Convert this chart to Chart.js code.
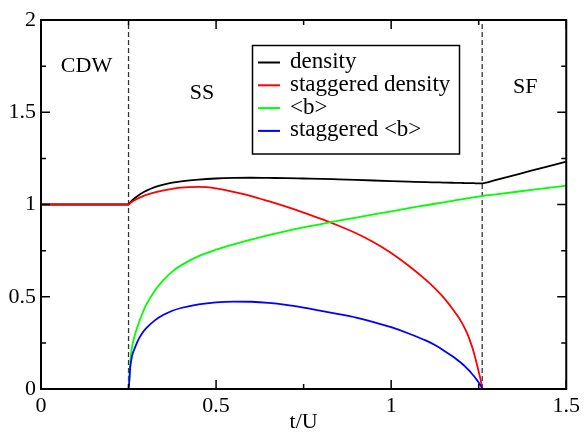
<!DOCTYPE html>
<html>
<head>
<meta charset="utf-8">
<script src="https://cdn.jsdelivr.net/npm/chart.js@4/dist/chart.umd.min.js"></script>
<style>
  html, body { margin: 0; padding: 0; background: #fff; }
  canvas { display: block; }
</style>
</head>
<body>
<canvas id="phase" width="584" height="433"></canvas>
<script>
// t/U sample points
const tOverU = [0, 0.25, 0.255, 0.26, 0.27, 0.28, 0.29, 0.3, 0.325, 0.35, 0.375, 0.4, 0.45, 0.5,
  0.55, 0.6, 0.65, 0.7, 0.75, 0.8, 0.85, 0.9, 0.95, 1.0, 1.05, 1.1,
  1.125, 1.15, 1.175, 1.19, 1.2, 1.21, 1.22, 1.23, 1.235, 1.24, 1.245, 1.252, 1.257, 1.26,
  1.3, 1.4, 1.5];

const density = [1, 1, 1.012, 1.022, 1.038, 1.052, 1.064, 1.074, 1.094, 1.108, 1.118, 1.125, 1.135, 1.141,
  1.144, 1.145, 1.144, 1.143, 1.141, 1.139, 1.136, 1.133, 1.13, 1.127, 1.124, 1.121,
  1.12, 1.119, 1.118, 1.117, 1.117, 1.116, 1.116, 1.116, 1.116, 1.115, 1.115, 1.115, 1.115, 1.115,
  1.134, 1.183, 1.232];

const staggeredDensity = [1, 1, 1.008, 1.015, 1.026, 1.036, 1.044, 1.052, 1.066, 1.077, 1.085, 1.092, 1.095, 1.087,
  1.068, 1.046, 1.018, 0.988, 0.956, 0.922, 0.885, 0.844, 0.795, 0.737, 0.668, 0.59,
  0.545, 0.495, 0.435, 0.395, 0.365, 0.33, 0.288, 0.235, 0.205, 0.17, 0.133, 0.078, 0.036, 0,
  0, 0, 0];

const bMean = [0, 0, 0.15, 0.228, 0.305, 0.362, 0.412, 0.455, 0.533, 0.592, 0.636, 0.67, 0.72, 0.755,
  0.784, 0.81, 0.834, 0.856, 0.876, 0.894, 0.912, 0.929, 0.946, 0.963, 0.98, 0.996,
  1.004, 1.012, 1.02, 1.025, 1.028, 1.031, 1.034, 1.037, 1.039, 1.04, 1.042, 1.044, 1.045, 1.046,
  1.055, 1.079, 1.102];

const staggeredB = [0, 0, 0.12, 0.178, 0.232, 0.274, 0.305, 0.328, 0.372, 0.402, 0.424, 0.439, 0.459, 0.47,
  0.474, 0.473, 0.467, 0.456, 0.441, 0.424, 0.406, 0.387, 0.363, 0.335, 0.301, 0.262,
  0.238, 0.209, 0.177, 0.156, 0.141, 0.124, 0.105, 0.084, 0.073, 0.061, 0.048, 0.029, 0.014, 0,
  0, 0, 0];

const seriesLabels = ['density', 'staggered density', '<b>', 'staggered <b>'];
const seriesColors = ['#000000', '#ff0000', '#00ff00', '#0000ff'];

// phase boundaries (t/U)
const boundaries = [0.25, 1.26];
const phaseNames = ['CDW', 'SS', 'SF'];

const xTicks = [0, 0.5, 1, 1.5];
const xTickLabels = ['0', '0.5', '1', '1.5'];
const xMinor = [0.25, 0.75, 1.25];
const yTicks = [0, 0.5, 1, 1.5, 2];
const yTickLabels = ['0', '0.5', '1', '1.5', '2'];
const yMinor = [0.25, 0.75, 1.25, 1.75];

const SERIF = "'Liberation Serif', 'Times New Roman', serif";

// where the phase names sit, in axis units (text baseline)
const phaseTextAt = [{ x: 0.13, y: 1.72 }, { x: 0.46, y: 1.57 }, { x: 1.383, y: 1.603 }];

const toPoints = (ys) => tOverU.map((t, i) => ({ x: t, y: ys[i] }));
const seriesData = [density, staggeredDensity, bMean, staggeredB];

const datasets = seriesData.map((ys, i) => ({
  label: seriesLabels[i],
  data: toPoints(ys),
  borderColor: seriesColors[i],
  borderWidth: 1.8,
  pointRadius: 0,
  cubicInterpolationMode: 'monotone',
  fill: false,
  order: 4 - i,
  isSeries: true
}));

boundaries.forEach((b) => {
  datasets.push({
    label: 'boundary',
    data: [{ x: b, y: 0 }, { x: b, y: 2 }],
    borderColor: '#333333',
    borderWidth: 1.3,
    borderDash: [5, 3],
    pointRadius: 0,
    fill: false,
    order: 10,
    isSeries: false
  });
});

// box frame with inward ticks on all four sides
const framePlugin = {
  id: 'frame',
  afterDatasetsDraw(chart) {
    const { ctx, chartArea: a, scales: { x, y } } = chart;
    ctx.save();
    ctx.strokeStyle = '#000';
    ctx.lineWidth = 1.5;
    const tickX = (v, len) => {
      const px = x.getPixelForValue(v);
      ctx.beginPath();
      ctx.moveTo(px, a.bottom); ctx.lineTo(px, a.bottom - len);
      ctx.moveTo(px, a.top); ctx.lineTo(px, a.top + len);
      ctx.stroke();
    };
    const tickY = (v, len) => {
      const py = y.getPixelForValue(v);
      ctx.beginPath();
      ctx.moveTo(a.left, py); ctx.lineTo(a.left + len, py);
      ctx.moveTo(a.right, py); ctx.lineTo(a.right - len, py);
      ctx.stroke();
    };
    xTicks.forEach((v) => tickX(v, 9));
    xMinor.forEach((v) => tickX(v, 5));
    yTicks.forEach((v) => tickY(v, 9));
    yMinor.forEach((v) => tickY(v, 5));
    ctx.lineWidth = 2;
    ctx.strokeRect(a.left, a.top, a.right - a.left, a.bottom - a.top);
    ctx.restore();
  }
};

// phase names and the boxed legend
const notesPlugin = {
  id: 'notes',
  afterDraw(chart) {
    const { ctx, scales: { x, y } } = chart;
    ctx.save();
    ctx.fillStyle = '#000';
    ctx.font = '22px ' + SERIF;
    ctx.textAlign = 'center';
    ctx.textBaseline = 'alphabetic';
    phaseNames.forEach((name, i) => {
      ctx.fillText(name, x.getPixelForValue(phaseTextAt[i].x), y.getPixelForValue(phaseTextAt[i].y));
    });

    const box = { left: 252.5, top: 45.5, width: 207, height: 108.5 };
    ctx.fillStyle = '#fff';
    ctx.fillRect(box.left, box.top, box.width, box.height);
    ctx.strokeStyle = '#000';
    ctx.lineWidth = 1.5;
    ctx.strokeRect(box.left, box.top, box.width, box.height);

    ctx.font = '23px ' + SERIF;
    ctx.textAlign = 'left';
    const items = chart.data.datasets.filter((d) => d.isSeries);
    items.forEach((d, i) => {
      const rowY = 62.5 + i * 22.8;
      ctx.strokeStyle = d.borderColor;
      ctx.lineWidth = 2;
      ctx.beginPath();
      ctx.moveTo(258, rowY);
      ctx.lineTo(280, rowY);
      ctx.stroke();
      ctx.fillStyle = '#000';
      ctx.fillText(d.label, 290, rowY + 5.5);
    });
    ctx.restore();
  }
};

new Chart(document.getElementById('phase'), {
  type: 'line',
  data: { datasets },
  options: {
    responsive: false,
    animation: false,
    devicePixelRatio: 1,
    layout: { padding: { left: 0, top: 20, right: 15, bottom: 0 } },
    plugins: { legend: { display: false }, tooltip: { enabled: false } },
    scales: {
      x: {
        type: 'linear',
        min: 0,
        max: 1.5,
        grid: { display: false, drawTicks: false },
        border: { display: false },
        afterBuildTicks: (s) => { s.ticks = xTicks.map((v) => ({ value: v })); },
        afterFit: (s) => { s.height = 44; },
        ticks: {
          color: '#000',
          padding: 4,
          maxRotation: 0,
          font: { family: SERIF, size: 22 },
          callback: (v) => xTickLabels[xTicks.indexOf(v)]
        },
        title: {
          display: true,
          text: 't/U',
          color: '#000',
          padding: 0,
          font: { family: SERIF, size: 22, lineHeight: 1 }
        }
      },
      y: {
        type: 'linear',
        min: 0,
        max: 2,
        grid: { display: false, drawTicks: false },
        border: { display: false },
        afterBuildTicks: (s) => { s.ticks = yTicks.map((v) => ({ value: v })); },
        afterFit: (s) => { s.width = 41; },
        ticks: {
          color: '#000',
          padding: 5,
          font: { family: SERIF, size: 22 },
          callback: (v) => yTickLabels[yTicks.indexOf(v)]
        }
      }
    }
  },
  plugins: [framePlugin, notesPlugin]
});
</script>
</body>
</html>
